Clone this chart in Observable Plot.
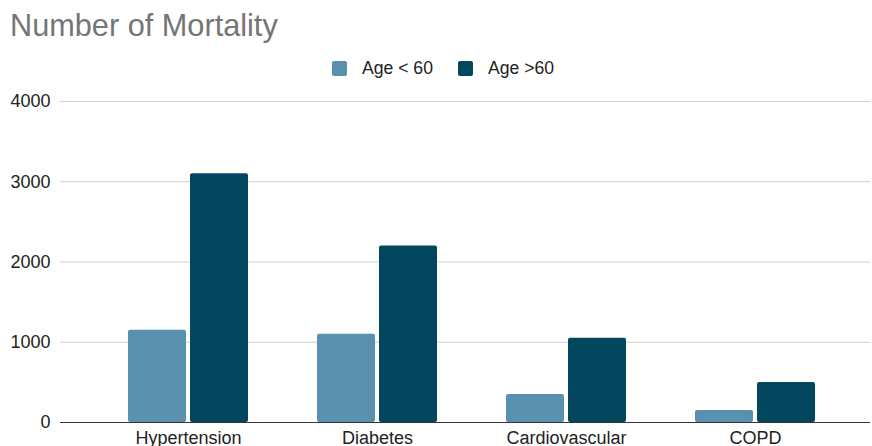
<!DOCTYPE html>
<html>
<head>
<meta charset="utf-8">
<script src="https://cdn.jsdelivr.net/npm/d3@7"></script>
<script src="https://cdn.jsdelivr.net/npm/@observablehq/plot@0.6"></script>
<style>
  body { margin: 0; background: #fff; font-family: "Liberation Sans", Arial, sans-serif; }
  #wrap { position: relative; width: 872px; height: 446px; overflow: hidden; }
  #title { position: absolute; left: 10px; top: 11px; font-size: 30.7px; line-height: 1; color: #757575; white-space: nowrap; }
  #legend { position: absolute; left: 0; width: 886px; top: 58px; display: flex; justify-content: center; gap: 25px; font-size: 17.6px; color: #222; }
  .item { display: flex; align-items: center; gap: 15px; }
  .sw { width: 15px; height: 15px; border-radius: 2px; display: inline-block; }
  #chart { position: absolute; left: 0; top: 86px; }
</style>
</head>
<body>
<div id="wrap">
  <div id="title">Number of Mortality</div>
  <div id="legend"></div>
  <div id="chart"></div>
</div>
<script>
const categories = ["Hypertension", "Diabetes", "Cardiovascular", "COPD"];
const seriesNames = ["Age < 60", "Age >60"];
const seriesColors = ["#5890ae", "#03475f"];
const below60 = [1150, 1100, 350, 150];
const above60 = [3100, 2200, 1050, 500];
const yTicks = [0, 1000, 2000, 3000, 4000];

const rowsBelow = categories.map((c, i) => ({category: c, series: seriesNames[0], value: below60[i]}));
const rowsAbove = categories.map((c, i) => ({category: c, series: seriesNames[1], value: above60[i]}));

const legend = document.getElementById("legend");
seriesNames.forEach((s, i) => {
  const it = document.createElement("div");
  it.className = "item";
  it.innerHTML = `<span class="sw" style="background:${seriesColors[i]}"></span><span>${s}</span>`;
  legend.appendChild(it);
});

const chart = Plot.plot({
  width: 872,
  height: 360,
  marginLeft: 60,
  marginRight: 2,
  marginTop: 15,
  marginBottom: 24,
  style: { fontFamily: "Liberation Sans, Arial, sans-serif", fontSize: "18px", color: "#222", background: "transparent" },
  x: { domain: categories, paddingInner: 0.366, paddingOuter: 0.322, align: 0.55, label: null, tickSize: 0, tickPadding: 9 },
  y: { domain: [0, 4000], ticks: yTicks, label: null, tickSize: 0, tickPadding: 10, grid: false, tickFormat: d => String(d) },
  color: { domain: seriesNames, range: seriesColors },
  marks: [
    Plot.ruleY(yTicks.filter(d => d > 0), { stroke: "#cfcfcf", strokeWidth: 1 }),
    Plot.barY(rowsBelow, { x: "category", y: "value", fill: d => d.series, insetRight: 62, rx: 2 }),
    Plot.barY(rowsAbove, { x: "category", y: "value", fill: d => d.series, insetLeft: 62, rx: 2 }),
    Plot.ruleY([0], { stroke: "#333", strokeWidth: 1.2 })
  ]
});
document.getElementById("chart").appendChild(chart);
</script>
</body>
</html>
